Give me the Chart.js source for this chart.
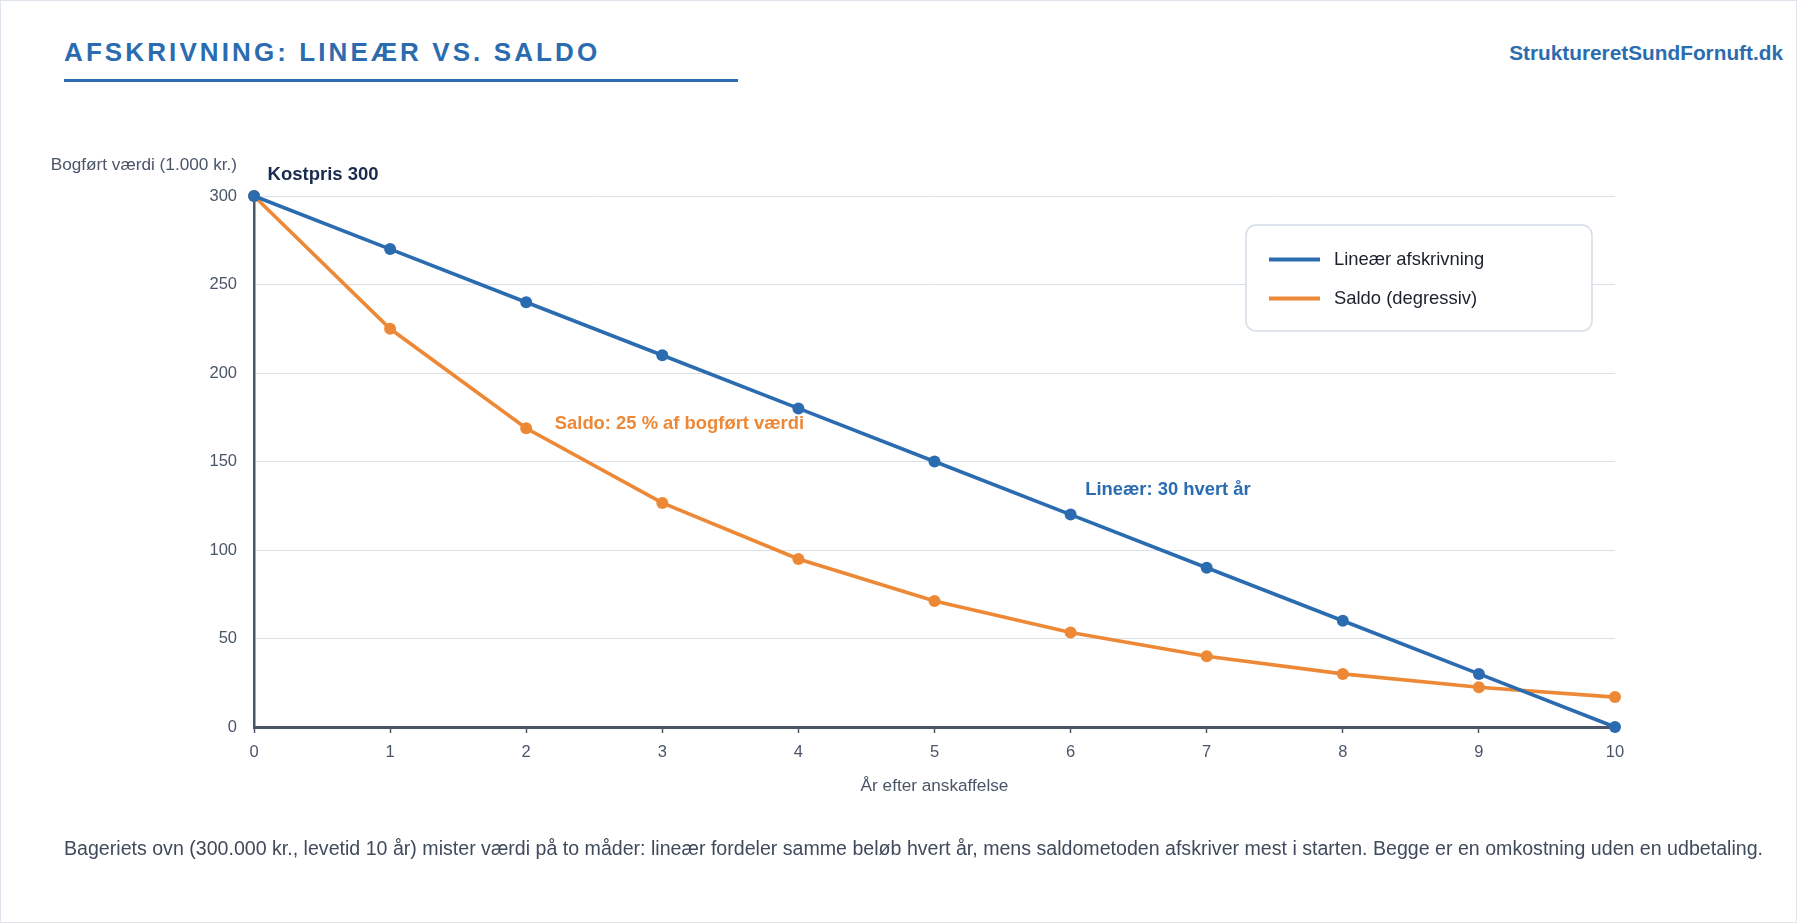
<!DOCTYPE html>
<html lang="da">
<head>
<meta charset="utf-8">
<title>Afskrivning: lineær vs. saldo</title>
<script src="https://cdn.jsdelivr.net/npm/chart.js@4"></script>
<style>
    html, body { margin: 0; padding: 0; background: #fff; }
    body { width: 1800px; height: 923px; position: relative; overflow: hidden; font-family: "Liberation Sans", Arial, sans-serif; }
    .card { position: absolute; left: 0; top: 0; width: 1795px; height: 921px; border: 1px solid #dfe5ec; }
    .title { position: absolute; left: 64px; top: 39px; font-size: 26px; line-height: 26px; font-weight: bold; letter-spacing: 3.1px; color: #2b6cb0; white-space: nowrap; }
    .rule { position: absolute; left: 64px; top: 79px; width: 674px; height: 3px; background: #2b6cb0; }
    .site { position: absolute; right: 17px; top: 42px; font-size: 20.8px; line-height: 21px; font-weight: bold; color: #2b6cb0; white-space: nowrap; }
    .note { position: absolute; left: 64px; top: 839px; font-size: 19.6px; line-height: 19.6px; color: #3f4a5c; white-space: nowrap; }
    #chartBox { position: absolute; left: 0; top: 0; width: 1800px; height: 923px; }
</style>
</head>
<body>
<div class="card"></div>
<div class="title">AFSKRIVNING: LINEÆR VS. SALDO</div>
<div class="rule"></div>
<div class="site">StruktureretSundFornuft.dk</div>
<div id="chartBox"><canvas id="myChart" width="1800" height="923"></canvas></div>
<div class="note">Bageriets ovn (300.000 kr., levetid 10 år) mister værdi på to måder: lineær fordeler samme beløb hvert år, mens saldometoden afskriver mest i starten. Begge er en omkostning uden en udbetaling.</div>

<script>
// data
var years = [0, 1, 2, 3, 4, 5, 6, 7, 8, 9, 10];
var lineaer = [300, 270, 240, 210, 180, 150, 120, 90, 60, 30, 0];
var saldo = [300, 225, 168.8, 126.6, 94.9, 71.2, 53.4, 40.0, 30.0, 22.5, 16.9];
var yTicks = [0, 50, 100, 150, 200, 250, 300];
var seriesNames = ['Lineær afskrivning', 'Saldo (degressiv)'];

var blue = '#2b6cb0';
var orange = '#ed8936';
var axisGray = '#4a5568';

function toPoints(values) {
    return years.map(function (yr, i) { return { x: yr, y: values[i] }; });
}

// tekster i og omkring plottet
var extraText = {
    id: 'extraText',
    afterDatasetsDraw: function (chart) {
        var ctx = chart.ctx;
        var xs = chart.scales.x;
        var ys = chart.scales.y;
        ctx.save();
        ctx.textBaseline = 'middle';

        // y-akse titel vandret over aksen
        ctx.font = '17.2px "Liberation Sans", Arial, sans-serif';
        ctx.fillStyle = axisGray;
        ctx.textAlign = 'right';
        ctx.fillText('Bogført værdi (1.000 kr.)', 237, 165);

        ctx.textAlign = 'left';
        ctx.font = 'bold 18.5px "Liberation Sans", Arial, sans-serif';
        ctx.fillStyle = '#1a2c4e';
        ctx.fillText('Kostpris 300', xs.getPixelForValue(0.1), ys.getPixelForValue(311.7));

        ctx.font = 'bold 18.4px "Liberation Sans", Arial, sans-serif';
        ctx.fillStyle = orange;
        ctx.fillText('Saldo: 25 % af bogført værdi', xs.getPixelForValue(2.21), ys.getPixelForValue(171.5));

        ctx.fillStyle = blue;
        ctx.fillText('Lineær: 30 hvert år', xs.getPixelForValue(6.107), ys.getPixelForValue(134));

        // forklaring
        var bx = 1246, by = 225, bw = 346, bh = 106;
        ctx.beginPath();
        ctx.roundRect(bx, by, bw, bh, 10);
        ctx.fillStyle = '#ffffff';
        ctx.fill();
        ctx.lineWidth = 1.5;
        ctx.strokeStyle = '#d5dde6';
        ctx.stroke();

        ctx.font = '18.4px "Liberation Sans", Arial, sans-serif';
        chart.data.datasets.forEach(function (ds, i) {
            var rowY = 259.5 + i * 39;
            ctx.beginPath();
            ctx.moveTo(1269, rowY);
            ctx.lineTo(1320, rowY);
            ctx.lineWidth = 4;
            ctx.strokeStyle = ds.borderColor;
            ctx.stroke();
            ctx.fillStyle = '#1a202c';
            ctx.fillText(ds.label, 1334, rowY);
        });
        ctx.restore();
    }
};

var ctx = document.getElementById('myChart').getContext('2d');
var myChart = new Chart(ctx, {
    type: 'line',
    data: {
        datasets: [{
            label: seriesNames[0],
            data: toPoints(lineaer),
            borderColor: blue,
            backgroundColor: blue,
            pointBackgroundColor: blue,
            borderWidth: 3.6,
            pointRadius: 6,
            pointBorderWidth: 0,
            tension: 0,
            clip: false
        }, {
            label: seriesNames[1],
            data: toPoints(saldo),
            borderColor: orange,
            backgroundColor: orange,
            pointBackgroundColor: orange,
            borderWidth: 3.6,
            pointRadius: 6,
            pointBorderWidth: 0,
            tension: 0,
            clip: false
        }]
    },
    options: {
        responsive: false,
        animation: false,
        devicePixelRatio: 1,
        layout: { padding: { left: 0, right: 185, top: 196, bottom: 116 } },
        plugins: {
            legend: { display: false },
            tooltip: { enabled: false }
        },
        scales: {
            x: {
                type: 'linear',
                min: 0,
                max: 10,
                afterFit: function (scale) { scale.height = 80; },
                ticks: {
                    stepSize: 1,
                    padding: 10,
                    color: axisGray,
                    font: { family: '"Liberation Sans", Arial, sans-serif', size: 16.5 }
                },
                grid: {
                    drawOnChartArea: false,
                    tickLength: 6,
                    tickWidth: 1.5,
                    tickColor: axisGray
                },
                border: { color: axisGray, width: 3 },
                title: {
                    display: true,
                    text: 'År efter anskaffelse',
                    color: axisGray,
                    padding: { top: 0, bottom: 10 },
                    font: { family: '"Liberation Sans", Arial, sans-serif', size: 17.2 }
                }
            },
            y: {
                min: 0,
                max: 300,
                afterFit: function (scale) { scale.width = 254; },
                afterBuildTicks: function (scale) {
                    scale.ticks = yTicks.map(function (v) { return { value: v }; });
                },
                ticks: {
                    padding: 17,
                    color: axisGray,
                    font: { family: '"Liberation Sans", Arial, sans-serif', size: 16.5 }
                },
                grid: {
                    drawTicks: false,
                    color: '#d9e0e8',
                    lineWidth: 1
                },
                border: { color: axisGray, width: 2.5 }
            }
        }
    },
    plugins: [extraText]
});
</script>
</body>
</html>
